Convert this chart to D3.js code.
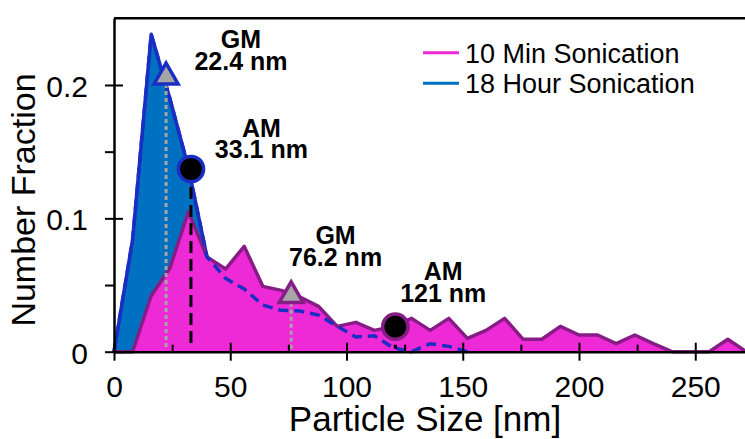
<!DOCTYPE html>
<html lang="en">
<head>
<meta charset="utf-8">
<title>Particle Size Distribution</title>
<script src="https://d3js.org/d3.v7.min.js"></script>
<style>
  body { margin: 0; background: #fff; }
  text { font-family: Arial, "Liberation Sans", sans-serif; }
</style>
</head>
<body>
<script>
var w = 745, h = 439;

// 10 min sonication (magenta)
var sizes10 = [0, 8, 16, 24, 32, 40, 48, 56, 64, 72, 80, 88, 96, 104, 112, 120, 128, 136,
               144, 152, 160, 168, 176, 184, 192, 200, 208, 216, 224, 232, 240, 248, 256, 264, 272];
var frac10 = [0, 0, 0.042, 0.0625, 0.105, 0.071, 0.062, 0.079, 0.049, 0.046, 0.041, 0.034, 0.019,
              0.022, 0.016, 0.019, 0.025, 0.016, 0.025, 0.010, 0.016, 0.025, 0.0093, 0.0093, 0.019,
              0.0125, 0.0125, 0.006, 0.0125, 0.006, 0, 0, 0, 0.0093, 0];

// 18 hour sonication (blue)
var sizes18 = [0, 8, 16, 24, 32, 40, 48, 56, 64, 72, 80, 88, 96, 104, 112, 120, 128, 136, 144, 152];
var frac18 = [0, 0.084, 0.238, 0.19, 0.138, 0.071, 0.055, 0.047, 0.035, 0.031, 0.0305, 0.0275,
              0.019, 0.011, 0.012, 0.003, 0, 0.006, 0.004, 0];

var seriesNames = ["10 Min Sonication", "18 Hour Sonication"];
var xMajorTicks = [0, 50, 100, 150, 200, 250];
var xMinorTicks = [25, 75, 125, 175, 225];
var yMajorTicks = [0, 0.1, 0.2];
var yMinorTicks = [0.05, 0.15];
var yTickLabels = ["0", "0.1", "0.2"];

// mean markers: which series, kind, size, height on curve, label anchor (data units)
var notes = [
  {series: 1, kind: "GM", size: 22.4, frac: 0.206, label: "22.4 nm", lx: 54.6, ly: 0.2113},
  {series: 1, kind: "AM", size: 33.1, frac: 0.137, label: "33.1 nm", lx: 63.4, ly: 0.145},
  {series: 0, kind: "GM", size: 76.2, frac: 0.042, label: "76.2 nm", lx: 95.3, ly: 0.0643},
  {series: 0, kind: "AM", size: 121, frac: 0.0188, label: "121 nm", lx: 141.6, ly: 0.0375}
];

var fillCol = ["#ee2ad6", "#0070c0"];
var edgeCol = ["#861c86", "#1a2ec4"];

var x = d3.scaleLinear().domain([0, 271.4]).range([114, 745]);
var y = d3.scaleLinear().domain([0, 0.25]).range([351.7, 18.3]);

var svg = d3.select("body").append("svg")
  .attr("width", w)
  .attr("height", h);

var area = d3.area()
  .x(function(d) { return x(d[0]); })
  .y0(y(0))
  .y1(function(d) { return y(d[1]); });
var line = d3.line()
  .x(function(d) { return x(d[0]); })
  .y(function(d) { return y(d[1]); });

var data10 = d3.zip(sizes10, frac10);
var data18 = d3.zip(sizes18, frac18);

// blue first, magenta on top, then blue outline dashed over it
svg.append("path").datum(data18).attr("d", area).attr("fill", fillCol[1]);
svg.append("path").datum(data18).attr("d", line)
  .attr("fill", "none").attr("stroke", edgeCol[1]).attr("stroke-width", 3.5).attr("stroke-linejoin", "round");
svg.append("path").datum(data10).attr("d", area).attr("fill", fillCol[0]);
svg.append("path").datum(data10).attr("d", line)
  .attr("fill", "none").attr("stroke", edgeCol[0]).attr("stroke-width", 3.5).attr("stroke-linejoin", "round");
svg.append("path").datum(data18).attr("d", line)
  .attr("fill", "none").attr("stroke", edgeCol[1]).attr("stroke-width", 3.5)
  .attr("stroke-dasharray", "10,6");

// drop lines
svg.selectAll(".drop").data(notes).enter().append("line")
  .attr("x1", function(d) { return x(d.size); })
  .attr("x2", function(d) { return x(d.size); })
  .attr("y1", function(d) { return y(d.frac); })
  .attr("y2", y(0) - 3)
  .attr("stroke", function(d) { return d.kind == "GM" ? "#a6a6a6" : "#000"; })
  .attr("stroke-width", 3)
  .attr("stroke-dasharray", function(d) { return d.kind == "GM" ? "4,3" : "12,6"; });

// markers
svg.selectAll(".mark").data(notes).enter().append("path")
  .attr("transform", function(d) { return "translate(" + x(d.size) + "," + y(d.frac) + ")"; })
  .attr("d", function(d) {
    return d.kind == "GM"
      ? d3.symbol().type(d3.symbolTriangle).size(250)()
      : d3.symbol().type(d3.symbolCircle).size(500)();
  })
  .attr("fill", function(d) { return d.kind == "GM" ? "#a6a6a6" : "#000"; })
  .attr("stroke", function(d) { return edgeCol[d.series]; })
  .attr("stroke-width", 3.5)
  .attr("stroke-linejoin", "miter");

// axes
var gx = svg.append("g").attr("transform", "translate(0," + y(0) + ")")
  .call(d3.axisBottom(x).tickValues(xMajorTicks).tickSize(9).tickSizeOuter(0)
    .tickPadding(15).tickFormat(d3.format("d")));
gx.selectAll(".tick line").attr("y1", -9);
var gxm = svg.append("g").attr("transform", "translate(0," + y(0) + ")")
  .call(d3.axisBottom(x).tickValues(xMinorTicks).tickSize(-7).tickFormat(""));
gxm.select(".domain").remove();

var gy = svg.append("g").attr("transform", "translate(" + x(0) + ",0)")
  .call(d3.axisLeft(y).tickValues(yMajorTicks).tickSize(9).tickSizeOuter(0)
    .tickPadding(17).tickFormat(function(d, i) { return yTickLabels[i]; }));
gy.selectAll(".tick line").attr("x1", 9);
gy.selectAll(".tick text").attr("dy", "0.38em");
var gym = svg.append("g").attr("transform", "translate(" + x(0) + ",0)")
  .call(d3.axisLeft(y).tickValues(yMinorTicks).tickSize(9).tickFormat(""));
gym.select(".domain").remove();

svg.selectAll(".domain").attr("stroke-width", 2.5);
svg.selectAll(".tick line").attr("stroke-width", 2);
svg.selectAll(".tick text").attr("font-size", 30)
  .attr("font-family", 'Arial, "Liberation Sans", sans-serif').attr("fill", "#000");

// top frame
svg.append("line")
  .attr("x1", x.range()[0]).attr("x2", x.range()[1])
  .attr("y1", y.range()[1]).attr("y2", y.range()[1])
  .attr("stroke", "#000").attr("stroke-width", 2.5);

// axis titles
svg.append("text").attr("x", 425).attr("y", 431)
  .attr("text-anchor", "middle").attr("font-size", 35)
  .text("Particle Size [nm]");
svg.append("text").attr("transform", "translate(35,200) rotate(-90)")
  .attr("text-anchor", "middle").attr("font-size", 34)
  .text("Number Fraction");

// annotation labels
var lab = svg.selectAll(".lab").data(notes).enter().append("text")
  .attr("text-anchor", "middle").attr("font-size", 25).attr("font-weight", "bold");
lab.append("tspan")
  .attr("x", function(d) { return x(d.lx); })
  .attr("y", function(d) { return y(d.ly) - 21.7; })
  .text(function(d) { return d.kind; });
lab.append("tspan")
  .attr("x", function(d) { return x(d.lx); })
  .attr("y", function(d) { return y(d.ly); })
  .text(function(d) { return d.label; });

// legend
var leg = svg.selectAll(".leg").data(seriesNames).enter().append("g")
  .attr("transform", function(d, i) { return "translate(423," + (52.7 + i * 30.6) + ")"; });
leg.append("line").attr("x1", 0).attr("x2", 36).attr("y1", 0).attr("y2", 0)
  .attr("stroke", function(d, i) { return fillCol[i]; }).attr("stroke-width", 3);
leg.append("text").attr("x", 42).attr("y", 10).attr("font-size", 27)
  .text(function(d) { return d; });
</script>
</body>
</html>
